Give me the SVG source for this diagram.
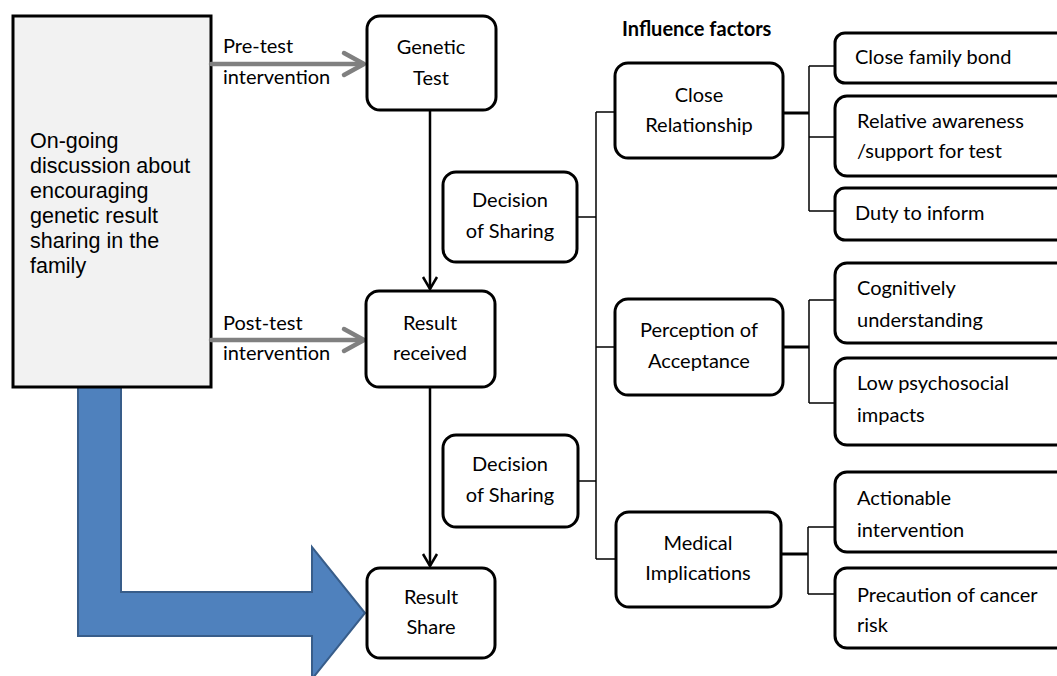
<svg xmlns="http://www.w3.org/2000/svg" width="1057" height="676" viewBox="0 0 1057 676">
<style>
.box{fill:#fff;stroke:#000;stroke-width:3}
.t{font-family:Lato,"Liberation Sans",sans-serif;font-size:20px;fill:#000}
.c{text-anchor:middle}
.thin{stroke:#000;stroke-width:1.5;fill:none}
.thick{stroke:#000;stroke-width:3;fill:none}
.flow{stroke:#000;stroke-width:2.5;fill:none}
.gray{stroke:#808080;stroke-width:4.5;fill:none;stroke-linecap:round;stroke-linejoin:round}
</style>
<rect width="1057" height="676" fill="#fff"/>
<g id="bigArrow">
<polygon points="78,380 121,380 121,592 312,592 312,547 365,613 312,679 312,636 78,636" fill="#4f81bd" stroke="#385d8a" stroke-width="2"/>
</g>
<g id="discussion">
<rect x="13" y="16" width="198" height="371" fill="#f2f2f2" stroke="#000" stroke-width="3"/>
<g font-family="'Liberation Sans',Arial,sans-serif" font-size="21.5" fill="#000">
<text x="30" y="148">On-going</text>
<text x="30" y="173">discussion about</text>
<text x="30" y="198">encouraging</text>
<text x="30" y="223">genetic result</text>
<text x="30" y="248">sharing in the</text>
<text x="30" y="273">family</text>
</g>
</g>
<g id="connectors">
<line class="gray" x1="211" y1="64" x2="363" y2="64"/>
<polyline class="gray" points="344,53 364,64 344,75"/>
<line class="gray" x1="211" y1="340" x2="363" y2="340"/>
<polyline class="gray" points="344,329 364,340 344,351"/>
<line class="flow" x1="430" y1="110" x2="430" y2="289"/>
<polyline class="flow" points="423,277 430,289 437,277"/>
<line class="flow" x1="430" y1="387" x2="430" y2="566"/>
<polyline class="flow" points="423,554 430,566 437,554"/>
<line class="thin" x1="596" y1="112" x2="596" y2="559"/>
<line class="thin" x1="578" y1="217" x2="596" y2="217"/>
<line class="thin" x1="578" y1="481" x2="596" y2="481"/>
<line class="thin" x1="596" y1="112" x2="615" y2="112"/>
<line class="thin" x1="596" y1="347" x2="615" y2="347"/>
<line class="thin" x1="596" y1="559" x2="616" y2="559"/>
<line class="thick" x1="783" y1="113" x2="809" y2="113"/>
<line class="thin" x1="809" y1="66" x2="809" y2="211"/>
<line class="thin" x1="809" y1="66" x2="835" y2="66"/>
<line class="thin" x1="809" y1="137" x2="835" y2="137"/>
<line class="thin" x1="809" y1="211" x2="835" y2="211"/>
<line class="thick" x1="783" y1="347" x2="809" y2="347"/>
<line class="thin" x1="809" y1="300" x2="809" y2="403"/>
<line class="thin" x1="809" y1="300" x2="835" y2="300"/>
<line class="thin" x1="809" y1="403" x2="835" y2="403"/>
<line class="thick" x1="781" y1="554" x2="808" y2="554"/>
<line class="thin" x1="808" y1="527" x2="808" y2="594"/>
<line class="thin" x1="808" y1="527" x2="835" y2="527"/>
<line class="thin" x1="808" y1="594" x2="835" y2="594"/>
</g>
<g class="t">
<text x="223" y="53">Pre-test</text>
<text x="223" y="84">intervention</text>
<text x="223" y="330">Post-test</text>
<text x="223" y="360">intervention</text>
</g>
<g id="geneticTest">
<rect class="box" x="367" y="16" width="129" height="94" rx="13"/>
<text class="t c" x="431" y="54">Genetic</text>
<text class="t c" x="431" y="85">Test</text>
</g>
<g id="resultReceived">
<rect class="box" x="366" y="291" width="129" height="96" rx="13"/>
<text class="t c" x="430" y="330">Result</text>
<text class="t c" x="430" y="360">received</text>
</g>
<g id="resultShare">
<rect class="box" x="367" y="568" width="128" height="90" rx="13"/>
<text class="t c" x="431" y="604">Result</text>
<text class="t c" x="431" y="634">Share</text>
</g>
<g id="decision1">
<rect class="box" x="443" y="172" width="134" height="90" rx="13"/>
<text class="t c" x="510" y="207">Decision</text>
<text class="t c" x="510" y="238">of Sharing</text>
</g>
<g id="decision2">
<rect class="box" x="443" y="435" width="135" height="92" rx="13"/>
<text class="t c" x="510" y="471">Decision</text>
<text class="t c" x="510" y="502">of Sharing</text>
</g>
<g id="title">
<text x="622" y="36" font-family="Lato,'Liberation Sans',sans-serif" font-size="20" font-weight="bold">Influence factors</text>
</g>
<g id="closeRelationship">
<rect class="box" x="615" y="63" width="168" height="95" rx="13"/>
<text class="t c" x="699" y="102">Close</text>
<text class="t c" x="699" y="132">Relationship</text>
</g>
<g id="perception">
<rect class="box" x="615" y="299" width="168" height="96" rx="13"/>
<text class="t c" x="699" y="337">Perception of</text>
<text class="t c" x="699" y="368">Acceptance</text>
</g>
<g id="medical">
<rect class="box" x="616" y="512" width="165" height="95" rx="13"/>
<text class="t c" x="698" y="550">Medical</text>
<text class="t c" x="698" y="580">Implications</text>
</g>
<g id="closeFamilyBond">
<rect class="box" x="835" y="33" width="240" height="50" rx="10"/>
<text class="t" x="855" y="64">Close family bond</text>
</g>
<g id="relativeAwareness">
<rect class="box" x="835" y="96" width="240" height="80" rx="12"/>
<text class="t" x="857" y="128">Relative awareness</text>
<text class="t" x="857" y="158">/support for test</text>
</g>
<g id="dutyToInform">
<rect class="box" x="835" y="188" width="240" height="52" rx="10"/>
<text class="t" x="855" y="220">Duty to inform</text>
</g>
<g id="cognitively">
<rect class="box" x="835" y="263" width="240" height="80" rx="12"/>
<text class="t" x="857" y="295">Cognitively</text>
<text class="t" x="857" y="327">understanding</text>
</g>
<g id="lowPsychosocial">
<rect class="box" x="835" y="358" width="240" height="87" rx="12"/>
<text class="t" x="857" y="390">Low psychosocial</text>
<text class="t" x="857" y="422">impacts</text>
</g>
<g id="actionable">
<rect class="box" x="835" y="472" width="240" height="80" rx="12"/>
<text class="t" x="857" y="505">Actionable</text>
<text class="t" x="857" y="537">intervention</text>
</g>
<g id="precaution">
<rect class="box" x="835" y="568" width="240" height="80" rx="12"/>
<text class="t" x="857" y="602">Precaution of cancer</text>
<text class="t" x="857" y="632">risk</text>
</g>
</svg>
